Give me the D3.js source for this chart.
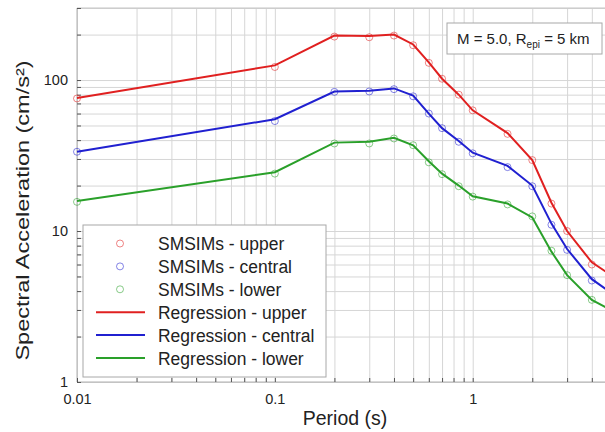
<!DOCTYPE html>
<html>
<head>
<meta charset="utf-8">
<script src="https://cdn.jsdelivr.net/npm/d3@7/dist/d3.min.js"></script>
<style>
  html, body { margin: 0; padding: 0; background: #fff; }
  svg { display: block; font-family: Arial, "Liberation Sans", sans-serif; }
</style>
</head>
<body>
<svg id="chart" width="605" height="432"></svg>
<script>
// ---------- data ----------
const periods = [0.01, 0.1, 0.2, 0.3, 0.4, 0.5, 0.6, 0.7, 0.85, 1.0, 1.5, 2.0, 2.5, 3.0, 4.0, 5.0];

const smsimUpper   = [75.5, 122, 194, 192, 197, 170, 130, 102, 80, 63, 44, 29.5, 15.2, 10, 6.0, 5.0];
const smsimCentral = [33.5, 53.5, 83.5, 84, 87, 78, 60, 48, 39, 32.7, 26.5, 19.8, 11, 7.5, 4.7, 3.9];
const smsimLower   = [15.6, 24, 38, 38, 41, 37, 28.5, 23.8, 19.8, 16.9, 15, 12.5, 7.4, 5.1, 3.5, 3.0];

const regUpper   = [76, 125, 197, 196, 200, 172, 131, 102, 80, 63, 44.5, 29.5, 15.4, 10, 6.2, 5.1];
const regCentral = [33.5, 55, 84, 85, 88, 79, 60, 48, 39.5, 33, 27, 20, 11.2, 7.6, 4.8, 3.9];
const regLower   = [15.8, 24.5, 38.5, 39, 41.5, 37, 29, 24, 20, 17, 15.2, 12.3, 7.3, 5.1, 3.5, 3.0];

const xMajorTicks = [0.01, 0.1, 1];
const xTickLabels = ["0.01", "0.1", "1"];
const yMajorTicks = [1, 10, 100];
const yTickLabels = ["1", "10", "100"];

const legendLabels = [
  "SMSIMs - upper", "SMSIMs - central", "SMSIMs - lower",
  "Regression - upper", "Regression - central", "Regression - lower"
];
const xTitle = "Period (s)";
const yTitle = "Spectral Acceleration (cm/s²)";

// ---------- layout ----------
const colors = { upper: "#e02020", central: "#2020d0", lower: "#2aa02a" };
const L = 77, R = 611, T = 8, B = 382;

const svg = d3.select("#chart");
const x = d3.scaleLog().domain([0.01, 5]).range([L, R]);
const y = d3.scaleLog().domain([1, 300]).range([B, T]);

// all minor+major tick positions
const xAll = [];
[0.01, 0.1, 1].forEach(d => { for (let k = 1; k <= 9; k++) { const v = +(d * k).toPrecision(3); if (v <= 5) xAll.push(v); } });
const yAll = [];
[1, 10, 100].forEach(d => { for (let k = 1; k <= 9; k++) { const v = d * k; if (v <= 300) yAll.push(v); } });

// grid
const gx = svg.append("g").attr("transform", `translate(0,${B})`)
  .call(d3.axisBottom(x).tickValues(xAll).tickSize(-(B - T)).tickFormat(""));
gx.select(".domain").remove();
gx.selectAll("line").attr("stroke", "#d6d6d6").attr("stroke-width", 1);

const gy = svg.append("g").attr("transform", `translate(${L},0)`)
  .call(d3.axisLeft(y).tickValues(yAll).tickSize(-(R - L)).tickFormat(""));
gy.select(".domain").remove();
gy.selectAll("line").attr("stroke", "#d6d6d6").attr("stroke-width", 1);

// frame
svg.append("line").attr("x1", L).attr("x2", L).attr("y1", T).attr("y2", B).attr("stroke", "#b0b0b0");
svg.append("line").attr("x1", L).attr("x2", R).attr("y1", B).attr("y2", B).attr("stroke", "#b0b0b0");
svg.append("line").attr("x1", L).attr("x2", R).attr("y1", T).attr("y2", T).attr("stroke", "#c4c4c4");

// inward tick marks
const tbx = svg.append("g").attr("transform", `translate(0,${B})`)
  .call(d3.axisBottom(x).tickValues(xAll).tickSize(-4).tickFormat(""));
tbx.select(".domain").remove();
tbx.selectAll("line").attr("stroke", "#555");
const tly = svg.append("g").attr("transform", `translate(${L},0)`)
  .call(d3.axisLeft(y).tickValues(yAll).tickSize(-4).tickFormat(""));
tly.select(".domain").remove();
tly.selectAll("line").attr("stroke", "#555");

// tick labels
const lx = svg.append("g").attr("transform", `translate(0,${B})`)
  .call(d3.axisBottom(x).tickValues(xMajorTicks).tickSize(0).tickPadding(0)
    .tickFormat((d, i) => xTickLabels[i]));
lx.select(".domain").remove();
lx.selectAll("text").attr("y", 22).attr("dy", 0).attr("font-size", 14.5)
  .attr("fill", "#222").attr("font-family", "Arial, 'Liberation Sans', sans-serif");

const ly = svg.append("g").attr("transform", `translate(${L},0)`)
  .call(d3.axisLeft(y).tickValues(yMajorTicks).tickSize(0).tickPadding(9)
    .tickFormat((d, i) => yTickLabels[i]));
ly.select(".domain").remove();
ly.selectAll("text").attr("font-size", 14.5).attr("fill", "#222")
  .attr("font-family", "Arial, 'Liberation Sans', sans-serif");

// axis titles
svg.append("text")
  .attr("transform", "translate(345,425) scale(0.93,1)")
  .attr("text-anchor", "middle").attr("font-size", 21).attr("fill", "#222")
  .text(xTitle);
svg.append("text")
  .attr("transform", "translate(29,210.5) scale(0.82,1) rotate(-90)")
  .attr("text-anchor", "middle").attr("font-size", 23.5).attr("fill", "#222")
  .text(yTitle);

// series
const series = [
  { reg: regUpper, sm: smsimUpper, c: colors.upper },
  { reg: regCentral, sm: smsimCentral, c: colors.central },
  { reg: regLower, sm: smsimLower, c: colors.lower }
];
const line = d3.line().x(d => x(d[0])).y(d => y(d[1]));

series.forEach(s => {
  svg.append("path")
    .datum(periods.map((p, i) => [p, s.reg[i]]))
    .attr("d", line).attr("fill", "none").attr("stroke", s.c).attr("stroke-width", 2);
});
series.forEach(s => {
  svg.append("g").selectAll("circle")
    .data(periods.map((p, i) => [p, s.sm[i]]))
    .join("circle")
    .attr("cx", d => x(d[0])).attr("cy", d => y(d[1])).attr("r", 3.5)
    .attr("fill", "none").attr("stroke", s.c).attr("stroke-width", 1).attr("stroke-opacity", 0.55);
});

// legend
const leg = svg.append("g");
leg.append("rect").attr("x", 83).attr("y", 225).attr("width", 243).attr("height", 152)
  .attr("fill", "#fff").attr("stroke", "#a8a8a8").attr("stroke-width", 1);
const legColors = [colors.upper, colors.central, colors.lower, colors.upper, colors.central, colors.lower];
legendLabels.forEach((lab, i) => {
  const cy = 243.5 + i * 22.9;
  if (i < 3) {
    leg.append("circle").attr("cx", 120).attr("cy", cy).attr("r", 3.5)
      .attr("fill", "none").attr("stroke", legColors[i]).attr("stroke-opacity", 0.55);
  } else {
    leg.append("line").attr("x1", 96).attr("x2", 145).attr("y1", cy).attr("y2", cy)
      .attr("stroke", legColors[i]).attr("stroke-width", 2);
  }
  leg.append("text")
    .attr("transform", `translate(158,${cy}) scale(0.92,1)`)
    .attr("dy", "0.35em").attr("font-size", 19).attr("fill", "#222").text(lab);
});

// annotation box
const ann = svg.append("g");
ann.append("rect").attr("x", 447).attr("y", 23).attr("width", 155).attr("height", 31)
  .attr("fill", "#fff").attr("stroke", "#a8a8a8");
const at = ann.append("text").attr("x", 457).attr("y", 44).attr("font-size", 15).attr("fill", "#222");
at.append("tspan").text("M = 5.0, R");
at.append("tspan").attr("font-size", 10).attr("dy", 4).text("epi");
at.append("tspan").attr("dy", -4).text(" = 5 km");
</script>
</body>
</html>
